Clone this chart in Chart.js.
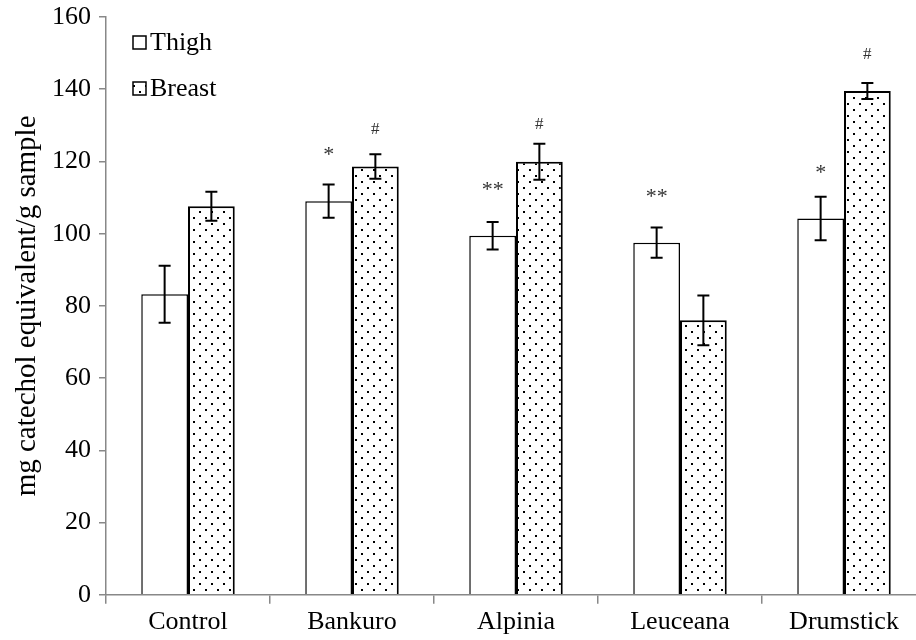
<!DOCTYPE html>
<html>
<head>
<meta charset="utf-8">
<script src="https://cdn.jsdelivr.net/npm/chart.js@4.4.1/dist/chart.umd.min.js"></script>
<style>
  html, body { margin: 0; padding: 0; background: #fff; overflow: hidden; }
  #wrap { width: 926px; height: 640px; }
</style>
</head>
<body>
<div id="wrap"><canvas id="grafico"></canvas></div>
<script>
// data
const categorias = ["Control", "Bankuro", "Alpinia", "Leuceana", "Drumstick"]
const thigh = [83.2, 109, 99.4, 97.5, 104.2]
const thigh_err = [7.9, 4.6, 3.8, 4.2, 6]
const breast = [107.6, 118.6, 119.9, 76, 139.5]
const breast_err = [4, 3.4, 5, 6.9, 2.2]
const thigh_marca = ["", "*", "**", "**", "*"]
const breast_marca = ["", "#", "#", "", "#"]
const y_ticks = [0, 20, 40, 60, 80, 100, 120, 140, 160]

const fonte = "'Liberation Serif', 'Times New Roman', serif"

// dotted fill used for Breast
function padrao_pontos() {
    const c = document.createElement("canvas")
    c.width = 12
    c.height = 12
    const ctx = c.getContext("2d")
    ctx.fillStyle = "#fff"
    ctx.fillRect(0, 0, 12, 12)
    ctx.fillStyle = "#000"
    ctx.fillRect(1, 1, 2, 2)
    ctx.fillRect(7, 7, 2, 2)
    return document.createElement("canvas").getContext("2d").createPattern(c, "repeat")
}
const pontos = padrao_pontos()

const erros = [thigh_err, breast_err]
const marcas = [thigh_marca, breast_marca]

const plugin_erros = {
    id: "erros",
    afterDatasetsDraw(chart) {
        const ctx = chart.ctx
        const y = chart.scales.y
        ctx.save()
        chart.data.datasets.forEach((ds, d) => {
            const meta = chart.getDatasetMeta(d)
            meta.data.forEach((bar, i) => {
                const v = ds.data[i]
                const e = erros[d][i]
                const yt = y.getPixelForValue(v + e)
                const yb = y.getPixelForValue(v - e)
                ctx.strokeStyle = "#000"
                ctx.lineWidth = 2
                ctx.beginPath()
                ctx.moveTo(bar.x, yt); ctx.lineTo(bar.x, yb)
                ctx.moveTo(bar.x - 6, yt); ctx.lineTo(bar.x + 6, yt)
                ctx.moveTo(bar.x - 6, yb); ctx.lineTo(bar.x + 6, yb)
                ctx.stroke()
                const m = marcas[d][i]
                if (m) {
                    const estrela = m !== "#"
                    ctx.fillStyle = "#333"
                    ctx.font = (estrela ? "22px " : "17px ") + fonte
                    ctx.textAlign = "center"
                    ctx.textBaseline = "middle"
                    const ym = y.getPixelForValue(v + (estrela ? 14 : 10.2))
                    ctx.fillText(m, bar.x, ym + (estrela ? 5 : 0))
                }
            })
        })
        ctx.restore()
    }
}

const plugin_legenda = {
    id: "legenda",
    afterDraw(chart) {
        const ctx = chart.ctx
        const a = chart.chartArea
        ctx.save()
        chart.data.datasets.forEach((ds, d) => {
            const x = a.left + 27
            const yc = a.top + 25 + d * 46
            ctx.fillStyle = ds.backgroundColor
            ctx.fillRect(x, yc - 6, 13, 13)
            ctx.strokeStyle = "#000"
            ctx.lineWidth = 1.5
            ctx.strokeRect(x, yc - 6, 13, 13)
            ctx.fillStyle = "#000"
            ctx.font = "26px " + fonte
            ctx.textAlign = "left"
            ctx.textBaseline = "middle"
            ctx.fillText(ds.label, x + 17, yc + 1)
        })
        ctx.restore()
    }
}

new Chart(document.getElementById("grafico"), {
    type: "bar",
    data: {
        labels: categorias,
        datasets: [
            { label: "Thigh", data: thigh, backgroundColor: "#fff", borderColor: "#000", borderWidth: 1.5 },
            { label: "Breast", data: breast, backgroundColor: pontos, borderColor: "#000", borderWidth: 2 }
        ]
    },
    options: {
        responsive: true,
        maintainAspectRatio: false,
        animation: false,
        categoryPercentage: 0.57,
        barPercentage: 1,
        layout: { padding: 0 },
        plugins: {
            legend: { display: false },
            tooltip: { enabled: false }
        },
        scales: {
            x: {
                offset: true,
                grid: { offset: true, drawOnChartArea: false, color: "#888", tickLength: 9, lineWidth: 1.5 },
                border: { color: "#888", width: 1.5 },
                ticks: { color: "#000", font: { family: fonte, size: 26 }, padding: 2.5 }
            },
            y: {
                min: 0,
                max: 160,
                afterBuildTicks: (s) => { s.ticks = y_ticks.map(v => ({ value: v })) },
                afterFit: (s) => { s.width = 106; s.paddingTop = 17; s.paddingBottom = 0 },
                grid: { drawOnChartArea: false, color: "#888", tickLength: 7, lineWidth: 1.5 },
                border: { color: "#888", width: 1.5 },
                ticks: { color: "#000", font: { family: fonte, size: 26 }, padding: 8 },
                title: { display: true, text: "mg catechol equivalent/g sample", color: "#000", font: { family: fonte, size: 29 }, padding: { top: 10, bottom: 0 } }
            }
        }
    },
    plugins: [plugin_erros, plugin_legenda]
})
</script>
</body>
</html>
